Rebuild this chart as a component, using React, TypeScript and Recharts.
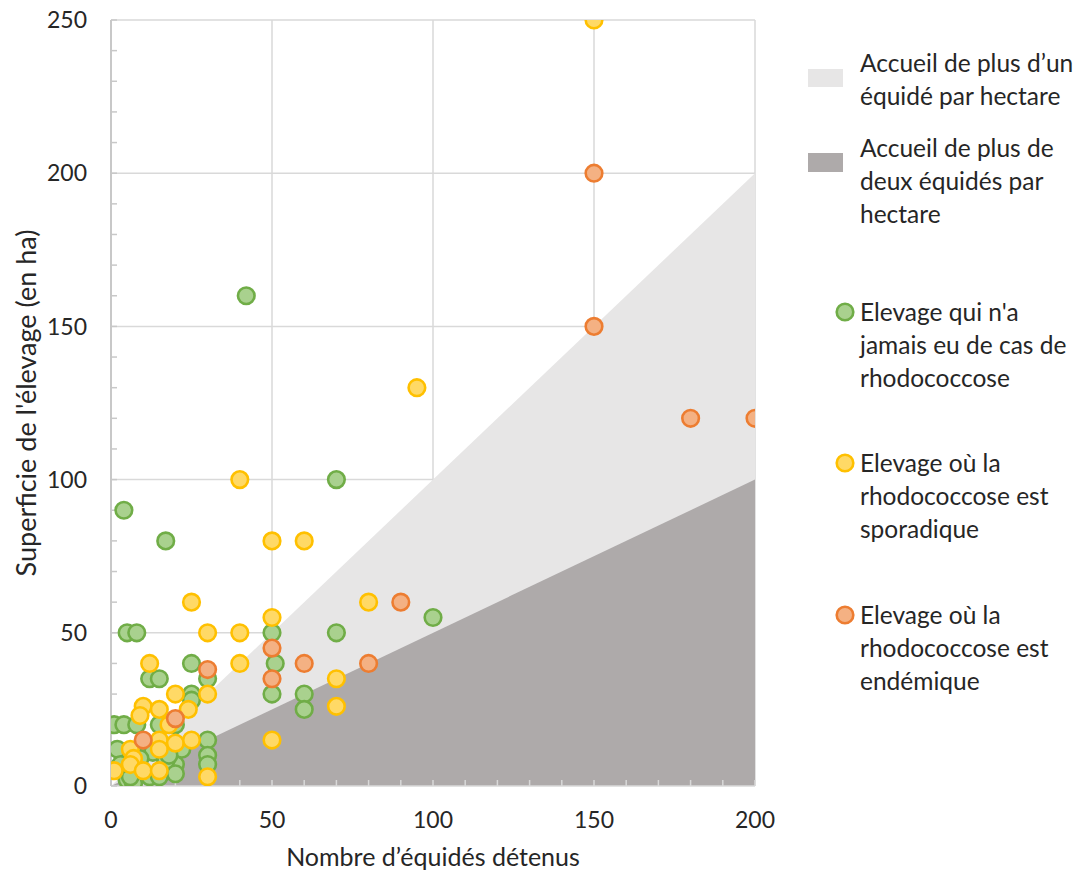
import React from 'react';
import { ComposedChart, Area, Scatter, XAxis, YAxis, CartesianGrid, Legend, Label } from 'recharts';

const xTicks = [0, 10, 20, 30, 40, 50, 60, 70, 80, 90, 100, 110, 120, 130, 140, 150, 160, 170, 180, 190, 200];
const yTicks = [0, 10, 20, 30, 40, 50, 60, 70, 80, 90, 100, 110, 120, 130, 140, 150, 160, 170, 180, 190, 200, 210, 220, 230, 240, 250];
const xGrid = [50, 100, 150, 200];
const yGrid = [50, 100, 150, 200, 250];
const labelStep = 50;

// Zones: y = x (one equid per hectare) and y = x/2 (two equids per hectare)
const zoneData = [
  { x: 0, unParHa: 0, deuxParHa: 0 },
  { x: 200, unParHa: 200, deuxParHa: 100 },
];

const jamaisPts = [
  { x: 42, y: 160 }, { x: 70, y: 100 }, { x: 4, y: 90 }, { x: 17, y: 80 }, { x: 100, y: 55 },
  { x: 5, y: 50 }, { x: 8, y: 50 }, { x: 50, y: 50 }, { x: 70, y: 50 }, { x: 25, y: 40 },
  { x: 51, y: 40 }, { x: 12, y: 35 }, { x: 15, y: 35 }, { x: 30, y: 35 }, { x: 25, y: 30 },
  { x: 50, y: 30 }, { x: 60, y: 30 }, { x: 25, y: 28 }, { x: 60, y: 25 }, { x: 1, y: 20 },
  { x: 4, y: 20 }, { x: 8, y: 20 }, { x: 15, y: 20 }, { x: 20, y: 20 }, { x: 30, y: 15 },
  { x: 2, y: 12 }, { x: 11, y: 13 }, { x: 13, y: 11 }, { x: 30, y: 10 }, { x: 9, y: 9 },
  { x: 20, y: 7 }, { x: 30, y: 7 }, { x: 17, y: 8 }, { x: 20, y: 4 }, { x: 12, y: 3 },
  { x: 15, y: 3 }, { x: 5, y: 2 }, { x: 7, y: 1 }, { x: 6, y: 3 }, { x: 22, y: 12 },
  { x: 18, y: 10 }, { x: 3, y: 7 },
];

const sporadiquePts = [
  { x: 150, y: 250 }, { x: 95, y: 130 }, { x: 40, y: 100 }, { x: 50, y: 80 }, { x: 60, y: 80 },
  { x: 25, y: 60 }, { x: 80, y: 60 }, { x: 50, y: 55 }, { x: 30, y: 50 }, { x: 40, y: 50 },
  { x: 12, y: 40 }, { x: 40, y: 40 }, { x: 70, y: 35 }, { x: 20, y: 30 }, { x: 30, y: 30 },
  { x: 70, y: 26 }, { x: 24, y: 25 }, { x: 10, y: 26 }, { x: 15, y: 25 }, { x: 9, y: 23 },
  { x: 18, y: 20 }, { x: 15, y: 15 }, { x: 20, y: 14 }, { x: 25, y: 15 }, { x: 6, y: 12 },
  { x: 15, y: 12 }, { x: 7, y: 9 }, { x: 6, y: 7 }, { x: 1, y: 5 }, { x: 10, y: 5 },
  { x: 15, y: 5 }, { x: 30, y: 3 }, { x: 50, y: 15 },
];

const endemiquePts = [
  { x: 150, y: 200 }, { x: 150, y: 150 }, { x: 180, y: 120 }, { x: 200, y: 120 }, { x: 90, y: 60 },
  { x: 80, y: 40 }, { x: 60, y: 40 }, { x: 50, y: 45 }, { x: 50, y: 35 }, { x: 30, y: 38 },
  { x: 20, y: 22 }, { x: 10, y: 15 },
];

const legendLabels = {
  un: "Accueil de plus d\u2019un équidé par hectare",
  deux: 'Accueil de plus de deux équidés par hectare',
  jamais: "Elevage qui n'a jamais eu de cas de rhodococcose",
  sporadique: 'Elevage où la rhodococcose est sporadique',
  endemique: 'Elevage où la rhodococcose est endémique',
};

const FONT = 'Lato, "Open Sans", sans-serif';
const TEXT = '#262626';
const COLORS = {
  light: '#e7e6e6',
  dark: '#aeaaaa',
  greenFill: '#a9d18e', greenStroke: '#70ad47',
  yellowFill: '#ffd966', yellowStroke: '#ffc000',
  orangeFill: '#f4b183', orangeStroke: '#ed7d31',
  grid: '#d9d9d9',
};

const makeDot = (fill: string, stroke: string) => (props: any) => (
  <circle cx={props.cx} cy={props.cy} r={8.3} fill={fill} stroke={stroke} strokeWidth={2.6} />
);

const YTick = (props: any) => {
  const { x, y, payload } = props;
  if (payload.value % labelStep !== 0) return <g />;
  return (
    <text x={x} y={y} dy="0.36em" textAnchor="end" fontSize={23} fontFamily={FONT} fill={TEXT}>
      {payload.value}
    </text>
  );
};

const XTick = (props: any) => {
  const { x, y, payload } = props;
  if (payload.value % labelStep !== 0) return <g />;
  return (
    <text x={x} y={y} dy="0.72em" textAnchor="middle" fontSize={23} fontFamily={FONT} fill={TEXT}>
      {payload.value}
    </text>
  );
};

const textStyle: React.CSSProperties = {
  position: 'absolute', left: 60, width: 223, fontSize: 24.5, lineHeight: '33px',
  fontFamily: FONT, color: TEXT,
};

const LegendContent = () => (
  <div style={{ position: 'relative', width: 283, height: 700 }}>
    <div style={{ position: 'absolute', left: 8, top: 69, width: 35, height: 18, background: COLORS.light }} />
    <div style={{ ...textStyle, top: 46 }}>{legendLabels.un}</div>
    <div style={{ position: 'absolute', left: 8, top: 153, width: 35, height: 19, background: COLORS.dark }} />
    <div style={{ ...textStyle, top: 131 }}>{legendLabels.deux}</div>
    {[
      { top: 295, fill: COLORS.greenFill, stroke: COLORS.greenStroke, text: legendLabels.jamais },
      { top: 446, fill: COLORS.yellowFill, stroke: COLORS.yellowStroke, text: legendLabels.sporadique },
      { top: 598, fill: COLORS.orangeFill, stroke: COLORS.orangeStroke, text: legendLabels.endemique },
    ].map((it, i) => (
      <React.Fragment key={i}>
        <svg style={{ position: 'absolute', left: 34, top: it.top + 5 }} width={24} height={24}>
          <circle cx={11} cy={12} r={8.3} fill={it.fill} stroke={it.stroke} strokeWidth={2.6} />
        </svg>
        <div style={{ ...textStyle, top: it.top }}>{it.text}</div>
      </React.Fragment>
    ))}
  </div>
);

export default function App() {
  return (
    <div style={{ position: 'absolute', left: 0, top: 0, width: 1083, height: 874, background: '#fff', fontFamily: FONT }}>
      <ComposedChart
        width={1083}
        height={874}
        data={zoneData}
        margin={{ top: 20, right: 328, bottom: 0, left: 11 }}
      >
        <XAxis
          type="number"
          dataKey="x"
          domain={[0, 200]}
          ticks={xTicks}
          interval={0}
          allowDataOverflow
          height={88}
          tickSize={-6}
          tickMargin={31}
          tickLine={{ stroke: COLORS.grid, strokeWidth: 1.5 }}
          axisLine={{ stroke: COLORS.grid, strokeWidth: 1.5 }}
          tick={XTick}
        >
          <Label
            value="Nombre d’équidés détenus"
            position="insideBottom"
            offset={8}
            style={{ fontSize: 25, fontFamily: FONT, fill: TEXT }}
          />
        </XAxis>
        <YAxis
          type="number"
          domain={[0, 250]}
          ticks={yTicks}
          interval={0}
          allowDataOverflow
          width={100}
          tickSize={-6}
          tickMargin={30}
          tickLine={{ stroke: '#c8c8c8', strokeWidth: 1.5 }}
          axisLine={{ stroke: '#c8c8c8', strokeWidth: 2 }}
          tick={YTick}
        >
          <Label
            value="Superficie de l'élevage (en ha)"
            angle={-90}
            position="insideLeft"
            offset={15}
            style={{ fontSize: 27, fontFamily: FONT, fill: TEXT, textAnchor: 'middle' }}
          />
        </YAxis>
        <Area
          type="linear"
          dataKey="unParHa"
          stroke="none"
          fill={COLORS.light}
          fillOpacity={1}
          isAnimationActive={false}
          activeDot={false}
        />
        <Area
          type="linear"
          dataKey="deuxParHa"
          stroke="none"
          fill={COLORS.dark}
          fillOpacity={1}
          isAnimationActive={false}
          activeDot={false}
        />
        <CartesianGrid
          stroke={COLORS.grid}
          strokeWidth={1.5}
          horizontalValues={yGrid}
          verticalValues={xGrid}
        />
        <Scatter
          data={jamaisPts}
          dataKey="y"
          shape={makeDot(COLORS.greenFill, COLORS.greenStroke)}
          isAnimationActive={false}
        />
        <Scatter
          data={sporadiquePts}
          dataKey="y"
          shape={makeDot(COLORS.yellowFill, COLORS.yellowStroke)}
          isAnimationActive={false}
        />
        <Scatter
          data={endemiquePts}
          dataKey="y"
          shape={makeDot(COLORS.orangeFill, COLORS.orangeStroke)}
          isAnimationActive={false}
        />
        <Legend
          layout="vertical"
          align="center"
          verticalAlign="middle"
          content={LegendContent}
          wrapperStyle={{ left: 800, top: 0, width: 283, height: 700 }}
        />
      </ComposedChart>
    </div>
  );
}
